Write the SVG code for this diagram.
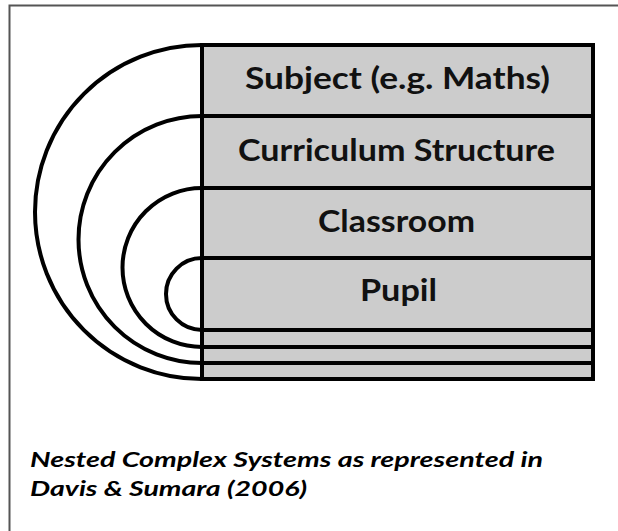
<svg xmlns="http://www.w3.org/2000/svg" width="618" height="531" viewBox="0 0 618 531">
<style>
.frame{fill:none;stroke:#555;stroke-width:2}
.arc{fill:none;stroke:#000;stroke-width:4}
.row{fill:#cccccc;stroke:#000;stroke-width:4}
.lbl{font-family:Lato,"Open Sans","Liberation Sans",sans-serif;font-weight:bold;font-size:31px;fill:#111;text-anchor:middle}
.cap{font-family:Lato,"Open Sans","Liberation Sans",sans-serif;font-weight:bold;font-style:italic;font-size:20px;fill:#000}
</style>
<rect width="618" height="531" fill="#fff"/>
<path class="frame" d="M9.5,531 V5.5 H618"/>
<g id="connectors">
<path class="arc" d="M202,45 A167,167 0 0 0 202,379"/>
<path class="arc" d="M202,116 A123.5,123.5 0 0 0 202,363"/>
<path class="arc" d="M202,188 A79.5,79.5 0 0 0 202,347"/>
<path class="arc" d="M202,258 A36,36 0 0 0 202,330"/>
</g>
<g id="subject">
<rect class="row" x="202" y="45" width="391" height="71"/>
<text class="lbl" x="397.5" y="88.5" textLength="305" lengthAdjust="spacingAndGlyphs">Subject (e.g. Maths)</text>
</g>
<g id="curriculum">
<rect class="row" x="202" y="116" width="391" height="72"/>
<text class="lbl" x="396.5" y="160.5" textLength="317" lengthAdjust="spacingAndGlyphs">Curriculum Structure</text>
</g>
<g id="classroom">
<rect class="row" x="202" y="188" width="391" height="70"/>
<text class="lbl" x="396.5" y="232" textLength="157" lengthAdjust="spacingAndGlyphs">Classroom</text>
</g>
<g id="pupil">
<rect class="row" x="202" y="258" width="391" height="72"/>
<text class="lbl" x="398.5" y="301" textLength="77" lengthAdjust="spacingAndGlyphs">Pupil</text>
</g>
<g id="bands">
<rect class="row" x="202" y="330" width="391" height="17"/>
<rect class="row" x="202" y="347" width="391" height="16"/>
<rect class="row" x="202" y="363" width="391" height="16"/>
</g>
<g id="caption">
<text class="cap" x="30" y="467" textLength="513" lengthAdjust="spacingAndGlyphs">Nested Complex Systems as represented in</text>
<text class="cap" x="30" y="496" textLength="277" lengthAdjust="spacingAndGlyphs">Davis &amp; Sumara (2006)</text>
</g>
</svg>
